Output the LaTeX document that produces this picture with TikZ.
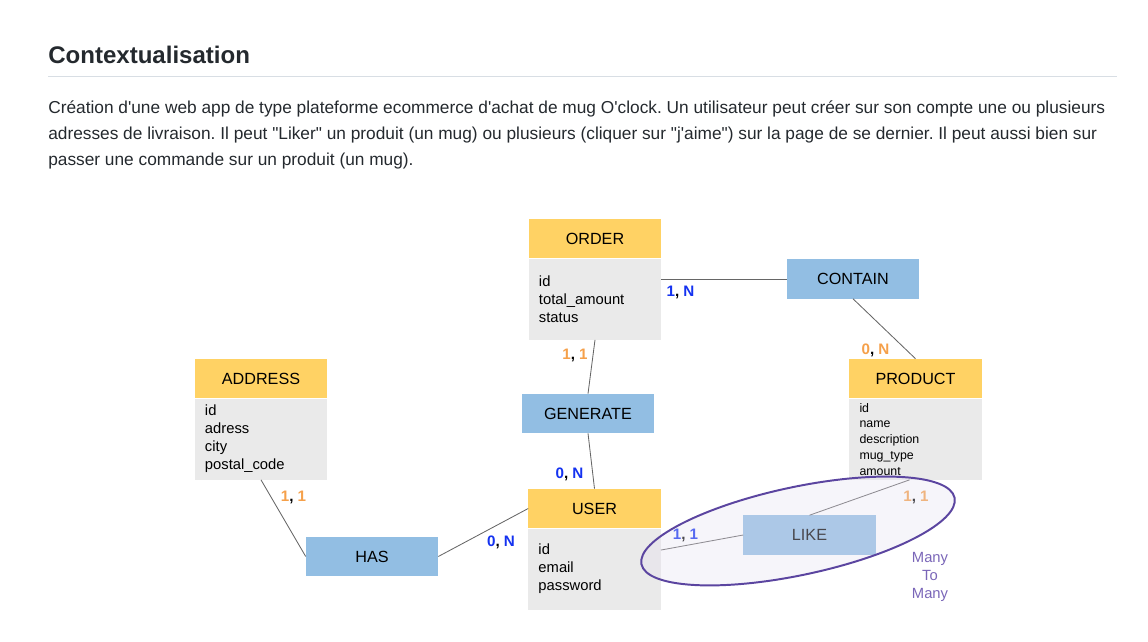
\documentclass[tikz,border=0pt]{standalone}
\usepackage{fontspec}
\setmainfont{Liberation Sans}[Ligatures=TeXOff]
\usepackage{xcolor}
\usetikzlibrary{positioning}
\frenchspacing

\definecolor{headyellow}{HTML}{FFD264}
\definecolor{bodygray}{HTML}{EAEAEA}
\definecolor{relblue}{HTML}{92BEE3}
\definecolor{cardorange}{HTML}{F5A04A}
\definecolor{cardblue}{HTML}{1432F0}
\definecolor{linegray}{HTML}{666666}
\definecolor{rulegray}{HTML}{D8DEE4}
\definecolor{textdark}{HTML}{24292E}
\definecolor{ringpurple}{HTML}{5B45A0}
\definecolor{ringfill}{HTML}{E4DFF0}
\definecolor{manypurple}{HTML}{7A66B8}

\newcommand{\cardtxt}[3]{\textcolor{#1}{#2}, \textcolor{#1}{#3}}

\begin{document}
\begin{tikzpicture}[
  x=0.025cm, y=-0.025cm,
  head/.style={fill=headyellow, minimum width=3.3cm, minimum height=0.975cm, inner sep=0pt, font=\fontsize{11.5}{13}\selectfont},
  attrs/.style={fill=bodygray, text width=2.8cm, inner xsep=0.25cm, inner ysep=0pt, minimum height=2.025cm, align=left, font=\fontsize{10.5}{12.8}\selectfont},
  smallattrs/.style={attrs, font=\fontsize{8.8}{11.2}\selectfont},
  rel/.style={fill=relblue, minimum width=3.3cm, minimum height=0.975cm, inner sep=0pt, font=\fontsize{11.5}{13}\selectfont},
  link/.style={draw=linegray, line width=0.6pt},
  card/.style={inner sep=0pt, font=\fontsize{10.8}{12}\selectfont\bfseries},
  para/.style={anchor=base west, inner sep=0pt, text=textdark, font=\fontsize{12.3}{14}\selectfont},
]
\useasboundingbox (0,0) rectangle (1148,642);

% Heading and text
\node[anchor=base west, inner sep=0pt, text=textdark, font=\fontsize{17.1}{20}\selectfont\bfseries] (title) at (48,63.3) {Contextualisation};
\draw[rulegray, line width=0.7pt] (48,76.7) -- (1117,76.7);
\node[para] (line1) at (48,113.3) {Création d'une web app de type plateforme ecommerce d'achat de mug O'clock. Un utilisateur peut créer sur son compte une ou plusieurs};
\node[para] (line2) at (48,139.8) {adresses de livraison. Il peut "Liker" un produit (un mug) ou plusieurs (cliquer sur "j'aime") sur la page de se dernier. Il peut aussi bien sur};
\node[para] (line3) at (48,165.8) {passer une commande sur un produit (un mug).};

% Entities
\node[head] (order) at (595,238.5) {ORDER};
\node[attrs, below=0pt of order] (orderbody) {id\\total\_amount\\status};

\node[head] (address) at (261,378.5) {ADDRESS};
\node[attrs, below=0pt of address] (addressbody) {id\\adress\\city\\postal\_code};

\node[head] (user) at (594.5,508.5) {USER};
\node[attrs, below=0pt of user] (userbody) {id\\email\\password\\[5pt]};

\node[head] (product) at (915.5,378.5) {PRODUCT};
\node[smallattrs, below=0pt of product] (productbody) {id\\name\\description\\mug\_type\\amount};

% Relations
\node[rel] (contain) at (853,279) {CONTAIN};
\node[rel] (generate) at (588,413.5) {GENERATE};
\node[rel] (has) at (372,556.5) {HAS};
\node[rel] (like) at (809.5,535) {LIKE};

% Links
\draw[link] (contain.west) -- (contain.west -| orderbody.east);
\draw[link] (contain.south) -- (product.north);
\draw[link] (orderbody.south) -- (generate.north);
\draw[link] (generate.south) -- (user.north);
\draw[link] (addressbody.south) -- (has.west);
\draw[link] (has.east) -- (user.west);
\draw[link] ([yshift=0.475cm]userbody.east) -- (like.west);
\draw[link] (like.north) -- ([xshift=-0.15cm]productbody.south);

% Cardinalities
\node[card] (c1) at (680.5,292.5) {\cardtxt{cardblue}{1}{N}};
\node[card] (c2) at (875.5,350.5) {\cardtxt{cardorange}{0}{N}};
\node[card] (c3) at (575,355.5) {\cardtxt{cardorange}{1}{1}};
\node[card] (c4) at (569.5,474.5) {\cardtxt{cardblue}{0}{N}};
\node[card] (c5) at (293.5,497.5) {\cardtxt{cardorange}{1}{1}};
\node[card] (c6) at (501,542.5) {\cardtxt{cardblue}{0}{N}};
\node[card] (c7) at (685.5,535.5) {\cardtxt{cardblue}{1}{1}};
\node[card] (c8) at (916,497.5) {\cardtxt{cardorange}{1}{1}};

% Many to many ring
\draw[ringpurple, line width=1.4pt, fill=ringfill, fill opacity=0.32] (798,531) ellipse [x radius=4cm, y radius=1.1cm, rotate=12];
\node[align=center, inner sep=0pt, text=manypurple, font=\fontsize{10.5}{12.8}\selectfont] (manylabel) at (930,576.5) {Many\\To\\Many};

\end{tikzpicture}
\end{document}
